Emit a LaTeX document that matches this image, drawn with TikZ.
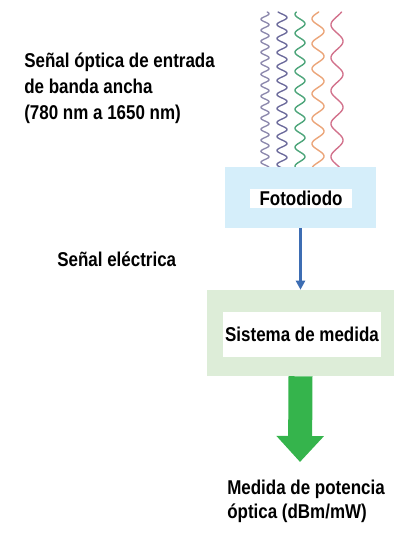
\documentclass[tikz,border=0pt]{standalone}
\usepackage{fontspec}
\setmainfont{Liberation Sans}[FakeStretch=0.85]
\usetikzlibrary{arrows.meta}
\newlength\px
\setlength\px{0.025cm}
\definecolor{boxblue}{HTML}{D5EEFA}
\definecolor{boxgreen}{HTML}{DDEDD8}
\definecolor{linkblue}{HTML}{3D6DB3}
\definecolor{outgreen}{HTML}{35B44C}
\definecolor{wavea}{HTML}{8E8AAE}
\definecolor{waveb}{HTML}{6D6C9C}
\definecolor{wavec}{HTML}{4DA57A}
\definecolor{waved}{HTML}{EBA579}
\definecolor{wavee}{HTML}{D2728C}
\begin{document}
\begin{tikzpicture}[
		x=\px, y=-\px,
		every node/.style={font=\fontsize{14.2}{18.2}\selectfont\bfseries},
		txt/.style={inner sep=0pt, align=left, anchor=base west},
		wave/.style={line width=1.4\px, line cap=round}
	]
	\useasboundingbox (0,0) rectangle (400,546);
	% incoming light
	\foreach \xx/\per/\amp/\col in {265/11/4/wavea, 282/14/5/waveb, 300/19/5/wavec, 318/25/6/waved, 337/33/6/wavee}
		\draw[wave, \col] plot[domain=12:172, samples=240, smooth] ({\xx+\amp*sin((\x/\per)*360)}, \x);
	% blocks
	\node[fill=boxblue, minimum width=151\px, minimum height=61\px] (foto) at (300.5,197.5) {};
	\node[fill=white, minimum width=102\px, minimum height=19\px, inner sep=0pt] (fotolbl) at (301,198.5) {Fotodiodo};
	\node[fill=boxgreen, minimum width=187\px, minimum height=86\px] (sist) at (300.5,333) {};
	\node[fill=white, minimum width=158\px, minimum height=45\px, inner sep=0pt] (sistlbl) at (302,334.5) {Sistema de medida};
	\coordinate (outtip) at (300,462);
	\draw[linkblue, line width=2.5\px, -{Triangle[width=6.4pt,length=6.4pt]}] (foto.south) -- (sist.north);
	\draw[outgreen, line width=24\px, -{Triangle[width=32.7pt,length=18.5pt]}] (sist.south) -- (outtip);
	% labels
	\node[txt] (input) at (24,119) {Señal óptica de entrada\\de banda ancha\\(780 nm a 1650 nm)};
	\node[txt] (elec) at (57,266) {Señal eléctrica};
	\node[txt, font=\fontsize{14.2}{16.7}\selectfont\bfseries] (output) at (227,518) {Medida de potencia\\óptica (dBm/mW)};
\end{tikzpicture}
\end{document}
